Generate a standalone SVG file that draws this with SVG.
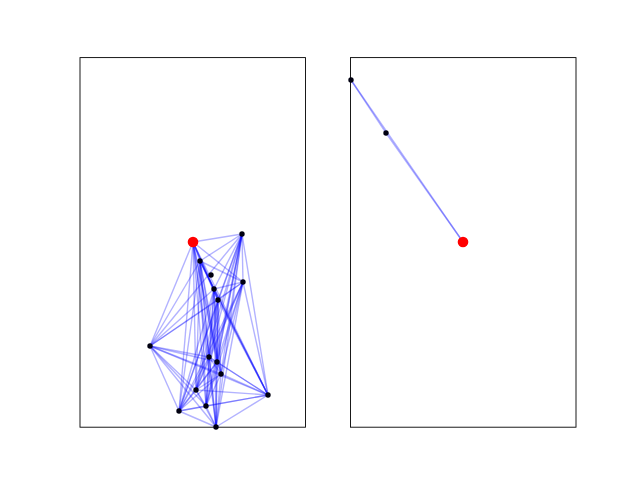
<svg xmlns="http://www.w3.org/2000/svg" width="640" height="480" viewBox="0 0 640 480">
<style>
.e{stroke:#0000ff;stroke-opacity:0.3;stroke-width:1.4;fill:none}
.n{fill:#000010}
.r{fill:#ff0000}
.ax{fill:none;stroke:#000;stroke-width:0.9}
</style>
<rect x="0" y="0" width="640" height="480" fill="#fff"/>
<g id="connectors">
<path class="e" d="M193 242L242 234"/><path class="e" d="M193 242L200 261"/><path class="e" d="M193 242L243 282"/><path class="e" d="M193 242L214 289"/><path class="e" d="M193 242L218 300"/><path class="e" d="M193 242L150 346"/><path class="e" d="M193 242L209 357"/><path class="e" d="M193 242L217 362"/><path class="e" d="M193 242L221 374"/><path class="e" d="M193 242L196 390"/><path class="e" d="M193 242L268 395"/><path class="e" d="M193 242L179 411"/><path class="e" d="M193 242L206 406"/><path class="e" d="M193 242L216 427"/>
<path class="e" d="M242 234L200 261"/><path class="e" d="M242 234L243 282"/><path class="e" d="M242 234L214 289"/><path class="e" d="M242 234L218 300"/><path class="e" d="M242 234L150 346"/><path class="e" d="M242 234L209 357"/><path class="e" d="M242 234L217 362"/><path class="e" d="M242 234L221 374"/><path class="e" d="M242 234L196 390"/><path class="e" d="M242 234L268 395"/><path class="e" d="M242 234L179 411"/><path class="e" d="M242 234L206 406"/><path class="e" d="M242 234L216 427"/>
<path class="e" d="M200 261L243 282"/><path class="e" d="M200 261L214 289"/><path class="e" d="M200 261L218 300"/><path class="e" d="M200 261L150 346"/><path class="e" d="M200 261L209 357"/><path class="e" d="M200 261L217 362"/><path class="e" d="M200 261L221 374"/><path class="e" d="M200 261L196 390"/><path class="e" d="M200 261L268 395"/><path class="e" d="M200 261L179 411"/><path class="e" d="M200 261L206 406"/><path class="e" d="M200 261L216 427"/>
<path class="e" d="M243 282L214 289"/><path class="e" d="M243 282L218 300"/><path class="e" d="M243 282L150 346"/><path class="e" d="M243 282L209 357"/><path class="e" d="M243 282L217 362"/><path class="e" d="M243 282L221 374"/><path class="e" d="M243 282L196 390"/><path class="e" d="M243 282L268 395"/><path class="e" d="M243 282L179 411"/><path class="e" d="M243 282L206 406"/><path class="e" d="M243 282L216 427"/>
<path class="e" d="M214 289L218 300"/><path class="e" d="M214 289L150 346"/><path class="e" d="M214 289L209 357"/><path class="e" d="M214 289L217 362"/><path class="e" d="M214 289L221 374"/><path class="e" d="M214 289L196 390"/><path class="e" d="M214 289L268 395"/><path class="e" d="M214 289L179 411"/><path class="e" d="M214 289L206 406"/><path class="e" d="M214 289L216 427"/>
<path class="e" d="M218 300L150 346"/><path class="e" d="M218 300L209 357"/><path class="e" d="M218 300L217 362"/><path class="e" d="M218 300L221 374"/><path class="e" d="M218 300L196 390"/><path class="e" d="M218 300L268 395"/><path class="e" d="M218 300L179 411"/><path class="e" d="M218 300L206 406"/><path class="e" d="M218 300L216 427"/>
<path class="e" d="M150 346L209 357"/><path class="e" d="M150 346L217 362"/><path class="e" d="M150 346L221 374"/><path class="e" d="M150 346L196 390"/><path class="e" d="M150 346L268 395"/><path class="e" d="M150 346L179 411"/><path class="e" d="M150 346L206 406"/><path class="e" d="M150 346L216 427"/>
<path class="e" d="M209 357L217 362"/><path class="e" d="M209 357L221 374"/><path class="e" d="M209 357L196 390"/><path class="e" d="M209 357L268 395"/><path class="e" d="M209 357L179 411"/><path class="e" d="M209 357L206 406"/><path class="e" d="M209 357L216 427"/>
<path class="e" d="M217 362L221 374"/><path class="e" d="M217 362L196 390"/><path class="e" d="M217 362L268 395"/><path class="e" d="M217 362L179 411"/><path class="e" d="M217 362L206 406"/><path class="e" d="M217 362L216 427"/>
<path class="e" d="M221 374L196 390"/><path class="e" d="M221 374L268 395"/><path class="e" d="M221 374L179 411"/><path class="e" d="M221 374L206 406"/><path class="e" d="M221 374L216 427"/>
<path class="e" d="M196 390L268 395"/><path class="e" d="M196 390L179 411"/><path class="e" d="M196 390L206 406"/><path class="e" d="M196 390L216 427"/>
<path class="e" d="M268 395L179 411"/><path class="e" d="M268 395L206 406"/><path class="e" d="M268 395L216 427"/>
<path class="e" d="M179 411L206 406"/><path class="e" d="M179 411L216 427"/>
<path class="e" d="M206 406L216 427"/>
<path class="e" d="M200 261L268 395"/><path class="e" d="M193 242L218 300"/><path class="e" d="M242 234L217 362"/>
<path class="e" d="M463 242L351 80"/><path class="e" d="M463 242L386 133"/><path class="e" d="M351 80L386 133"/>
</g>
<rect class="ax" x="80" y="57.6" width="225.45" height="369.6"/>
<rect class="ax" x="350.55" y="57.6" width="225.45" height="369.6"/>
<g id="nodes-left">
<circle id="n1" class="n" cx="242" cy="234" r="2.7"/>
<circle id="n2" class="n" cx="200" cy="261" r="2.7"/>
<circle id="n3" class="n" cx="211" cy="275" r="2.7"/>
<circle id="n4" class="n" cx="243" cy="282" r="2.7"/>
<circle id="n5" class="n" cx="214" cy="289" r="2.7"/>
<circle id="n6" class="n" cx="218" cy="300" r="2.7"/>
<circle id="n7" class="n" cx="150" cy="346" r="2.7"/>
<circle id="n8" class="n" cx="209" cy="357" r="2.7"/>
<circle id="n9" class="n" cx="217" cy="362" r="2.7"/>
<circle id="n10" class="n" cx="221" cy="374" r="2.7"/>
<circle id="n11" class="n" cx="196" cy="390" r="2.7"/>
<circle id="n12" class="n" cx="268" cy="395" r="2.7"/>
<circle id="n13" class="n" cx="179" cy="411" r="2.7"/>
<circle id="n14" class="n" cx="206" cy="406" r="2.7"/>
<circle id="n15" class="n" cx="216" cy="427" r="2.7"/>
<circle id="n0" class="r" cx="193" cy="242" r="5.3"/>
</g>
<g id="nodes-right">
<circle id="m1" class="n" cx="351" cy="80" r="2.7"/>
<circle id="m2" class="n" cx="386" cy="133" r="2.7"/>
<circle id="m0" class="r" cx="463" cy="242" r="5.3"/>
</g>
</svg>
